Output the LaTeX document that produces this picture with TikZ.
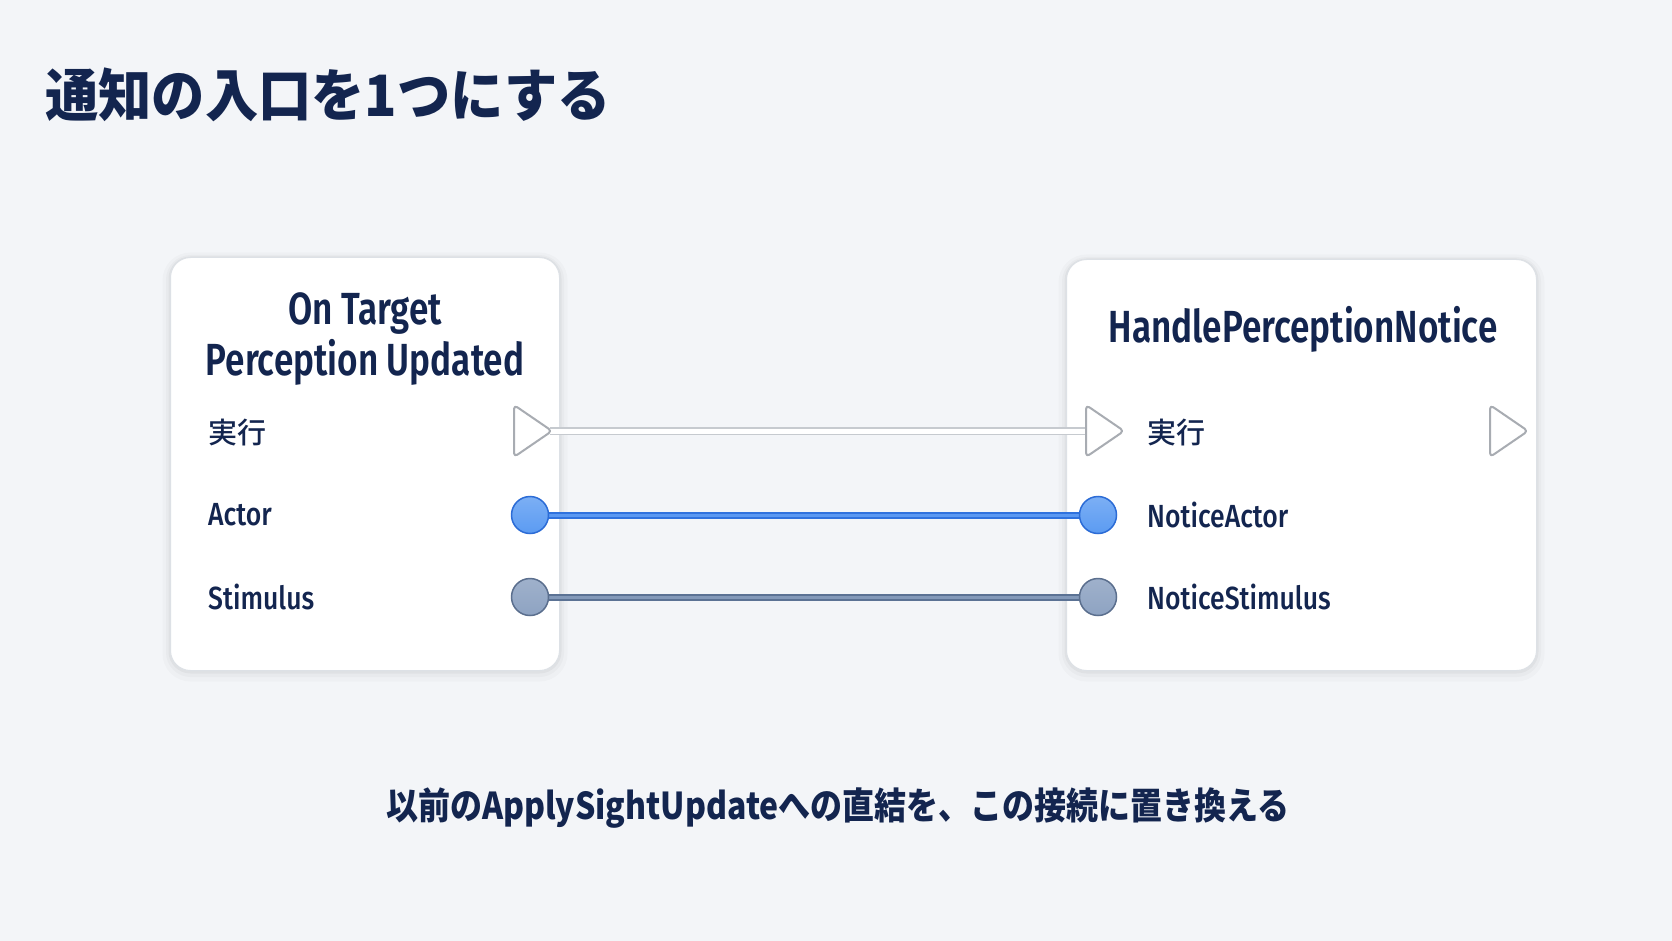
\documentclass[tikz,border=0pt]{standalone}
\usepackage{fontspec}
\setmainfont{Fira Sans}
\newfontfamily\jp{Noto Sans CJK JP}
\newfontfamily\jpm{Noto Sans CJK JP}[UprightFont=* Medium]
\newfontfamily\lat{Fira Sans}[FakeStretch=0.83, UprightFont=* Medium]
\newfontfamily\latt{Fira Sans}[FakeStretch=0.78, BoldFont=* SemiBold]
\usetikzlibrary{calc}
\definecolor{bgc}{HTML}{F3F5F8}
\definecolor{ink}{HTML}{13254F}
\definecolor{boxline}{HTML}{DDE1E6}
\definecolor{execline}{HTML}{A8ACB2}
\definecolor{execwireline}{HTML}{C6CACF}
\definecolor{actfill}{HTML}{5B9BF2}
\definecolor{actline}{HTML}{2C6CD6}
\definecolor{actwire}{HTML}{2F72DE}
\definecolor{actwirein}{HTML}{5A98F2}
\definecolor{stfill}{HTML}{8EA3C2}
\definecolor{stline}{HTML}{5B6F8E}
\definecolor{stwire}{HTML}{5B7294}
\definecolor{stwirein}{HTML}{8399B9}
\pgfdeclarelayer{bglayer}
\pgfdeclarelayer{wirelayer}
\pgfsetlayers{bglayer,wirelayer,main}
\tikzset{
  nodebox/.style={draw=boxline, line width=1pt, fill=white, rounded corners=20pt, inner sep=0pt,
    anchor=north west,
    preaction={draw=black, opacity=0.018, line width=16pt, transform canvas={yshift=-3pt}},
    preaction={draw=black, opacity=0.025, line width=9pt, transform canvas={yshift=-2pt}},
    preaction={draw=black, opacity=0.035, line width=4pt, transform canvas={yshift=-1pt}}},
  nodetitle/.style={font=\latt\bfseries\fontsize{45}{51}\selectfont, text=ink, align=center, inner sep=0pt},
  pinlabel/.style={font=\lat\fontsize{32}{36}\selectfont, text=ink, anchor=west, inner sep=0pt},
  jplabel/.style={font=\jpm\fontsize{29}{34}\selectfont, text=ink, anchor=west, inner sep=0pt},
  exectri/.style={draw=execline, fill=white, line width=2pt, rounded corners=4pt, line join=round},
  execwire/.style={draw=execwireline, line width=1.5pt, double=white, double distance=5pt},
  actpin/.style={circle, minimum size=37pt, inner sep=0pt, draw=actline, line width=1.5pt,
    top color=actfill!80!white, bottom color=actfill},
  stpin/.style={circle, minimum size=37pt, inner sep=0pt, draw=stline, line width=1.5pt,
    top color=stfill!85!white, bottom color=stfill},
  actwirestyle/.style={draw=actwire, line width=2pt, double=actwirein, double distance=3pt},
  stwirestyle/.style={draw=stwire, line width=2pt, double=stwirein, double distance=3pt},
}
\begin{document}
\begin{tikzpicture}[x=1pt,y=-1pt]
\useasboundingbox (0,0) rectangle (1672,941);
\begin{pgfonlayer}{bglayer}
\fill[bgc] (0,0) rectangle (1672,941);
\node[nodebox, minimum width=389pt, minimum height=413pt] (src) at (170,257) {};
\node[nodebox, minimum width=470pt, minimum height=411pt] (dst) at (1066,259) {};
\end{pgfonlayer}

% page title
\node[anchor=west, inner sep=0pt, text=ink, font=\jp\bfseries\fontsize{57}{60}\selectfont] (title) at (45,95)
  {\scalebox{0.935}[1]{通知の入口を1つにする}};

% source node
\node[nodetitle] (srctitle) at (365,339) {On Target\\Perception Updated};
\node[jplabel] (srcexec) at (208,433) {実行};
\node[pinlabel] (srcactor) at (208,515) {Actor};
\node[pinlabel] (srcstim) at (208,597) {Stimulus};
\draw[exectri] (514,405) -- (552,431) -- (514,457) -- cycle;
\coordinate (sx) at (550,431);
\node[actpin] (sa) at (530,515) {};
\node[stpin] (ss) at (530,597) {};

% target node
\node[nodetitle] (dsttitle) at (1303,329) {HandlePerceptionNotice};
\node[jplabel] (dstexec) at (1147,433) {実行};
\node[pinlabel] (dstactor) at (1147,515) {NoticeActor};
\node[pinlabel] (dststim) at (1147,597) {NoticeStimulus};
\draw[exectri] (1086,405) -- (1124,431) -- (1086,457) -- cycle;
\coordinate (tx) at (1087,431);
\draw[exectri] (1490,405) -- (1528,431) -- (1490,457) -- cycle;
\node[actpin] (ta) at (1098,515) {};
\node[stpin] (ts) at (1098,597) {};

% wires
\begin{pgfonlayer}{wirelayer}
\draw[execwire] (sx) -- (tx);
\draw[actwirestyle] (sa.center) -- (ta.center);
\draw[stwirestyle] (ss.center) -- (ts.center);
\end{pgfonlayer}

% caption
\node[inner sep=0pt, text=ink, font=\jp\bfseries\fontsize{37}{40}\selectfont] (caption) at (838,808)
  {\scalebox{0.865}[1]{以前のApplySightUpdateへの直結を、この接続に置き換える}};
\end{tikzpicture}
\end{document}
